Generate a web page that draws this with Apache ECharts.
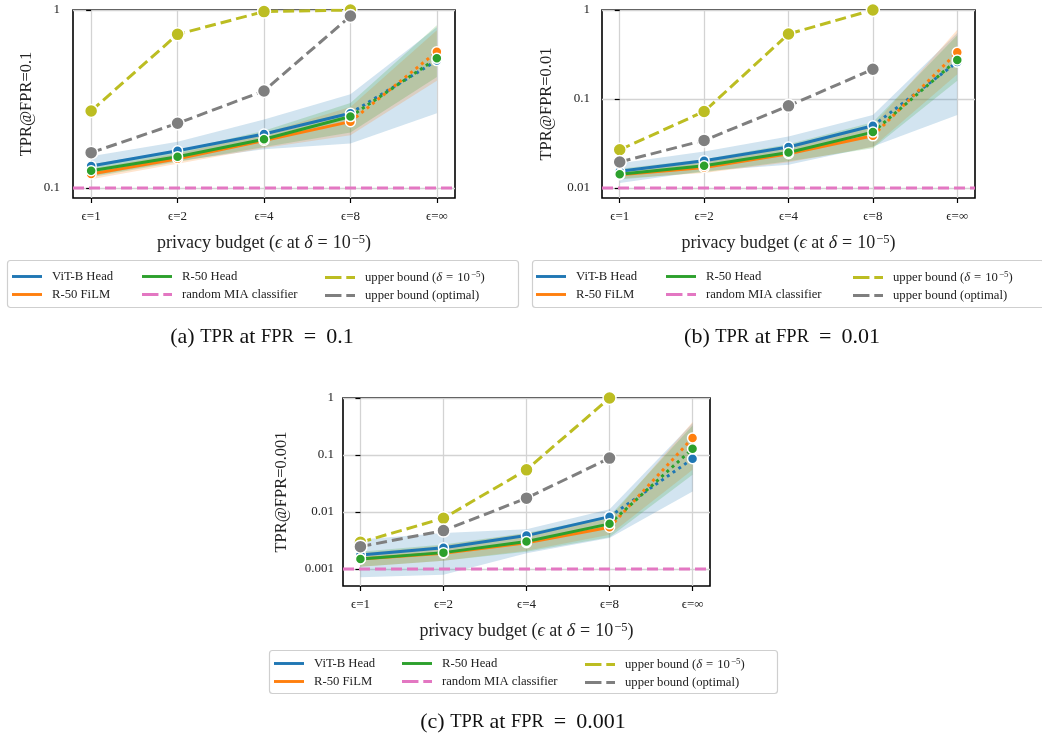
<!DOCTYPE html>
<html>
<head>
<meta charset="utf-8">
<script src="https://cdn.jsdelivr.net/npm/echarts@6/dist/echarts.min.js"></script>
<style>
  html, body { margin: 0; padding: 0; background: #fff; }
  #chart { width: 1042px; height: 734px; }
</style>
</head>
<body>
<div id="chart"></div>
<script>
// ---- data ----
var epsLabels = ['ϵ=1', 'ϵ=2', 'ϵ=4', 'ϵ=8', 'ϵ=∞'];

// (a) TPR at FPR = 0.1
var vitA = [0.133, 0.162, 0.201, 0.263, 0.52];
var vitLoA = [0.117, 0.142, 0.165, 0.178, 0.263];
var vitHiA = [0.151, 0.182, 0.243, 0.336, 0.80];
var filmA = [0.120, 0.146, 0.185, 0.236, 0.583];
var filmLoA = [0.112, 0.137, 0.168, 0.198, 0.40];
var filmHiA = [0.128, 0.156, 0.203, 0.285, 0.77];
var r50A = [0.125, 0.150, 0.188, 0.252, 0.535];
var r50LoA = [0.115, 0.140, 0.170, 0.205, 0.42];
var r50HiA = [0.136, 0.162, 0.210, 0.300, 0.82];
var ubDeltaA = [0.271, 0.73, 0.98, 1.0];
var ubOptA = [0.158, 0.231, 0.351, 0.925];

// (b) TPR at FPR = 0.01
var vitB = [0.0154, 0.0203, 0.0289, 0.050, 0.26];
var vitLoB = [0.0114, 0.0155, 0.0183, 0.0293, 0.066];
var vitHiB = [0.019, 0.0258, 0.0379, 0.066, 0.55];
var filmB = [0.0141, 0.017, 0.0243, 0.0386, 0.335];
var filmLoB = [0.0128, 0.0148, 0.0195, 0.029, 0.19];
var filmHiB = [0.0158, 0.0195, 0.0295, 0.050, 0.60];
var r50B = [0.0143, 0.0178, 0.0251, 0.0425, 0.275];
var r50LoB = [0.0125, 0.015, 0.020, 0.028, 0.16];
var r50HiB = [0.0165, 0.021, 0.031, 0.055, 0.52];
var ubDeltaB = [0.0269, 0.0724, 0.538, 1.0];
var ubOptB = [0.0196, 0.0343, 0.0838, 0.216];

// (c) TPR at FPR = 0.001
var vitC = [0.00177, 0.00237, 0.00386, 0.0083, 0.0859];
var vitLoC = [0.00072, 0.00079, 0.0019, 0.0035, 0.023];
var vitHiC = [0.0033, 0.0043, 0.005, 0.0112, 0.36];
var filmC = [0.0015, 0.00189, 0.0029, 0.0054, 0.198];
var filmLoC = [0.0011, 0.0014, 0.0021, 0.0040, 0.055];
var filmHiC = [0.0019, 0.0026, 0.0042, 0.0078, 0.38];
var r50C = [0.0015, 0.00194, 0.00303, 0.0062, 0.129];
var r50LoC = [0.0011, 0.0014, 0.0020, 0.0036, 0.045];
var r50HiC = [0.0020, 0.0027, 0.0043, 0.0085, 0.33];
var ubDeltaC = [0.00294, 0.00778, 0.055, 1.0];
var ubOptC = [0.00247, 0.00472, 0.0175, 0.0883];

var fprLevels = [0.1, 0.01, 0.001];
var yTicksA = [0.1, 1];
var yTicksB = [0.01, 0.1, 1];
var yTicksC = [0.001, 0.01, 0.1, 1];

// ---- style ----
var SERIF = '"Liberation Serif", "DejaVu Serif", serif';
var BLUE = '#1f77b4', ORANGE = '#ff7f0e', GREEN = '#2ca02c';
var PINK = '#e377c2', OLIVE = '#bcbd22', GRAY = '#7f7f7f';
var TXT = '#222';
var GRIDLINE = '#d3d3d3';
var X_MIN = -0.21, X_MAX = 4.21;
var LEG_FS = 12.7;

var NAME_VIT = 'ViT-B Head', NAME_FILM = 'R-50 FiLM', NAME_R50 = 'R-50 Head';
var NAME_RAND = 'random MIA classifier';
var NAME_UBD = 'upper bound (δ = 10^-5)', NAME_UBO = 'upper bound (optimal)';

var panels = [
    {
        grid: { left: 73, top: 10, width: 382, height: 188 }, yMin: 0.0879, yTicks: yTicksA, fpr: fprLevels[0],
        yName: 'TPR@FPR=0.1', yNameGap: 38, yLabelMargin: 13,
        models: [[vitA, vitLoA, vitHiA], [filmA, filmLoA, filmHiA], [r50A, r50LoA, r50HiA]],
        ubDelta: ubDeltaA, ubOpt: ubOptA,
        legendBox: { x: 7, y: 260, w: 511, h: 47 }, legendCols: [12, 142, 325], legendTop: 270,
        caption: { x: 262, y: 337, tag: '(a) ', val: '0.1' }
    },
    {
        grid: { left: 602, top: 10, width: 373, height: 188 }, yMin: 0.00773, yTicks: yTicksB, fpr: fprLevels[1],
        yName: 'TPR@FPR=0.01', yNameGap: 47, yLabelMargin: 12,
        models: [[vitB, vitLoB, vitHiB], [filmB, filmLoB, filmHiB], [r50B, r50LoB, r50HiB]],
        ubDelta: ubDeltaB, ubOpt: ubOptB,
        legendBox: { x: 532, y: 260, w: 512, h: 47 }, legendCols: [536, 666, 853], legendTop: 270,
        caption: { x: 782, y: 337, tag: '(b) ', val: '0.01' }
    },
    {
        grid: { left: 343, top: 398, width: 367, height: 188 }, yMin: 0.000504, yTicks: yTicksC, fpr: fprLevels[2],
        yName: 'TPR@FPR=0.001', yNameGap: 53, yLabelMargin: 9,
        models: [[vitC, vitLoC, vitHiC], [filmC, filmLoC, filmHiC], [r50C, r50LoC, r50HiC]],
        ubDelta: ubDeltaC, ubOpt: ubOptC,
        legendBox: { x: 269, y: 650, w: 508, h: 43 }, legendCols: [274, 402, 585], legendTop: 657,
        caption: { x: 523, y: 722, tag: '(c) ', val: '0.001' }
    }
];

var modelNames = [NAME_VIT, NAME_FILM, NAME_R50];
var modelColors = [BLUE, ORANGE, GREEN];

// legend columns, filled column by column like the original
var legendColumns = [[NAME_VIT, NAME_FILM], [NAME_R50, NAME_RAND], [NAME_UBD, NAME_UBO]];
var dashedNames = [NAME_RAND, NAME_UBD, NAME_UBO];

function fmtTick(v) {
    if (v >= 1) return '1';
    return Number(v).toFixed(Math.round(-Math.log10(v)));
}

// confidence band, one quad per segment, through the axes' own coord()
function bandSeries(k, lo, hi, color) {
    return {
        type: 'custom', name: '', xAxisIndex: k, yAxisIndex: k, z: 1, silent: true, clip: true,
        data: lo.map(function (v, i) { return [i, v, hi[i]]; }),
        renderItem: function (params, api) {
            var i = params.dataIndex;
            if (i >= lo.length - 1) return { type: 'group', children: [] };
            var pts = [
                api.coord([i, lo[i]]), api.coord([i + 1, lo[i + 1]]),
                api.coord([i + 1, hi[i + 1]]), api.coord([i, hi[i]])
            ];
            return { type: 'polygon', shape: { points: pts }, style: { fill: color, opacity: 0.2 } };
        }
    };
}

function buildSeries(p, k) {
    var out = [];
    p.models.forEach(function (m, j) {
        out.push(bandSeries(k, m[1], m[2], modelColors[j]));
    });
    p.models.forEach(function (m, j) {
        var vals = m[0];
        out.push({
            type: 'line', name: modelNames[j], xAxisIndex: k, yAxisIndex: k, z: 3,
            data: vals.slice(0, 4).map(function (v, i) { return [i, v]; }),
            symbol: 'circle', symbolSize: 10, color: modelColors[j],
            lineStyle: { width: 3, color: modelColors[j] },
            itemStyle: { color: modelColors[j], borderColor: '#fff', borderWidth: 1.5 }
        });
        // eps=8 -> eps=inf is dotted
        out.push({
            type: 'line', name: modelNames[j] + ' ∞', xAxisIndex: k, yAxisIndex: k, z: 3,
            data: [{ value: [3, vals[3]], symbol: 'none' }, [4, vals[4]]],
            symbol: 'circle', symbolSize: 10, color: modelColors[j],
            lineStyle: { width: 3, type: [3, 4], color: modelColors[j] },
            itemStyle: { color: modelColors[j], borderColor: '#fff', borderWidth: 1.5 }
        });
    });
    out.push({
        type: 'line', name: NAME_RAND, xAxisIndex: k, yAxisIndex: k, z: 4,
        data: [[X_MIN, p.fpr], [X_MAX, p.fpr]], symbol: 'none', color: PINK,
        lineStyle: { width: 3, type: [11, 5], color: PINK }
    });
    [[NAME_UBD, p.ubDelta, OLIVE], [NAME_UBO, p.ubOpt, GRAY]].forEach(function (u) {
        out.push({
            type: 'line', name: u[0], xAxisIndex: k, yAxisIndex: k, z: 5,
            data: u[1].map(function (v, i) { return [i, v]; }),
            symbol: 'circle', symbolSize: 13, color: u[2],
            lineStyle: { width: 3, type: [11, 5], color: u[2] },
            itemStyle: { color: u[2], borderColor: '#fff', borderWidth: 1.5 }
        });
    });
    return out;
}

var SOLID_ICON = 'path://M0,0h31v3H0z';
var DASH_ICON = 'path://M0,0h17v3H0zM22,0h9v3H22z';

function legText(extra) {
    return Object.assign({ fontFamily: SERIF, fontSize: LEG_FS, color: TXT }, extra || {});
}

function buildLegends(p) {
    return legendColumns.map(function (names, c) {
        return {
            left: p.legendCols[c], top: p.legendTop, orient: 'vertical',
            itemGap: 5, itemWidth: 30, itemHeight: 3, selectedMode: false, padding: 0,
            itemStyle: { borderWidth: 0 },
            textStyle: {
                fontFamily: SERIF, fontSize: LEG_FS, color: TXT, padding: [0, 0, 0, 5],
                rich: {
                    n: legText(),
                    i: legText({ fontStyle: 'italic' }),
                    e: legText({ padding: [0, 4, 0, 4] }),
                    s: legText({ fontSize: 9, verticalAlign: 'top', padding: [0, 0, 6, 1] })
                }
            },
            formatter: function (name) {
                if (name === NAME_UBD) return '{n|upper bound (}{i|δ}{e|=}{n|10}{s|−5}{n|)}';
                return name;
            },
            data: names.map(function (n) {
                return { name: n, icon: dashedNames.indexOf(n) >= 0 ? DASH_ICON : SOLID_ICON };
            })
        };
    });
}

function buildCaption(p) {
    var c = p.caption;
    return {
        type: 'text', x: c.x, y: c.y, silent: true,
        style: {
            text: '{n|' + c.tag + '}{sc|TPR}{n| at }{sc|FPR}{e|=}{n|' + c.val + '}',
            align: 'center', verticalAlign: 'middle',
            rich: {
                n: { fontFamily: SERIF, fontSize: 22, fill: '#111' },
                sc: { fontFamily: SERIF, fontSize: 18.5, fill: '#111' },
                e: { fontFamily: SERIF, fontSize: 22, fill: '#111', padding: [0, 10, 0, 10] }
            }
        }
    };
}

// frame around each legend block
function buildLegendFrame(p) {
    var b = p.legendBox;
    return {
        type: 'rect', silent: true, z: -1,
        shape: { x: b.x + 0.5, y: b.y + 0.5, width: b.w, height: b.h, r: 3 },
        style: { fill: '#fff', stroke: '#cfcfcf', lineWidth: 1.2 }
    };
}

var chart = echarts.init(document.getElementById('chart'), null, { renderer: 'canvas' });

var option = {
    animation: false,
    backgroundColor: '#fff',
    grid: panels.map(function (p) {
        return Object.assign({ show: true, borderColor: '#000', borderWidth: 1.6, backgroundColor: 'transparent' }, p.grid);
    }),
    xAxis: panels.map(function (p, k) {
        return {
            gridIndex: k, type: 'value', min: X_MIN, max: X_MAX,
            name: '{t|privacy budget (}{i|ϵ}{t| at }{i|δ}{e|=}{t|10}{s|−5}{t|)}',
            nameLocation: 'middle', nameGap: 35,
            nameTextStyle: {
                rich: {
                    t: { fontFamily: SERIF, fontSize: 18, color: TXT, lineHeight: 20 },
                    i: { fontFamily: SERIF, fontSize: 18, fontStyle: 'italic', color: TXT, lineHeight: 20 },
                    e: { fontFamily: SERIF, fontSize: 18, color: TXT, lineHeight: 20, padding: [0, 5, 0, 5] },
                    s: { fontFamily: SERIF, fontSize: 12.5, color: TXT, lineHeight: 20, verticalAlign: 'top', padding: [0, 0, 8, 1] }
                }
            },
            axisLine: { show: false },
            axisTick: { show: true, customValues: [0, 1, 2, 3, 4], length: 5, lineStyle: { color: '#000', width: 1.2 } },
            axisLabel: {
                customValues: [0, 1, 2, 3, 4], margin: 12, fontFamily: SERIF, fontSize: 13, color: TXT,
                formatter: function (v) { return epsLabels[Math.round(v)]; }
            },
            splitLine: { show: true, lineStyle: { color: GRIDLINE, width: 1.3 } }
        };
    }),
    yAxis: panels.map(function (p, k) {
        return {
            gridIndex: k, type: 'log', logBase: 10, min: p.yMin, max: 1,
            name: p.yName, nameLocation: 'middle', nameRotate: 90, nameGap: p.yNameGap,
            nameTextStyle: { fontFamily: SERIF, fontSize: 16.5, color: TXT },
            axisLine: { show: false },
            axisTick: { show: true, customValues: p.yTicks, length: 5, lineStyle: { color: '#000', width: 1.2 } },
            axisLabel: { customValues: p.yTicks, margin: p.yLabelMargin, fontFamily: SERIF, fontSize: 13, color: TXT, formatter: fmtTick },
            splitLine: { show: true, lineStyle: { color: GRIDLINE, width: 1.3 } },
            minorTick: { show: false }
        };
    }),
    legend: [].concat.apply([], panels.map(buildLegends)),
    graphic: panels.map(buildLegendFrame).concat(panels.map(buildCaption)),
    series: [].concat.apply([], panels.map(buildSeries))
};

chart.setOption(option);
</script>
</body>
</html>
